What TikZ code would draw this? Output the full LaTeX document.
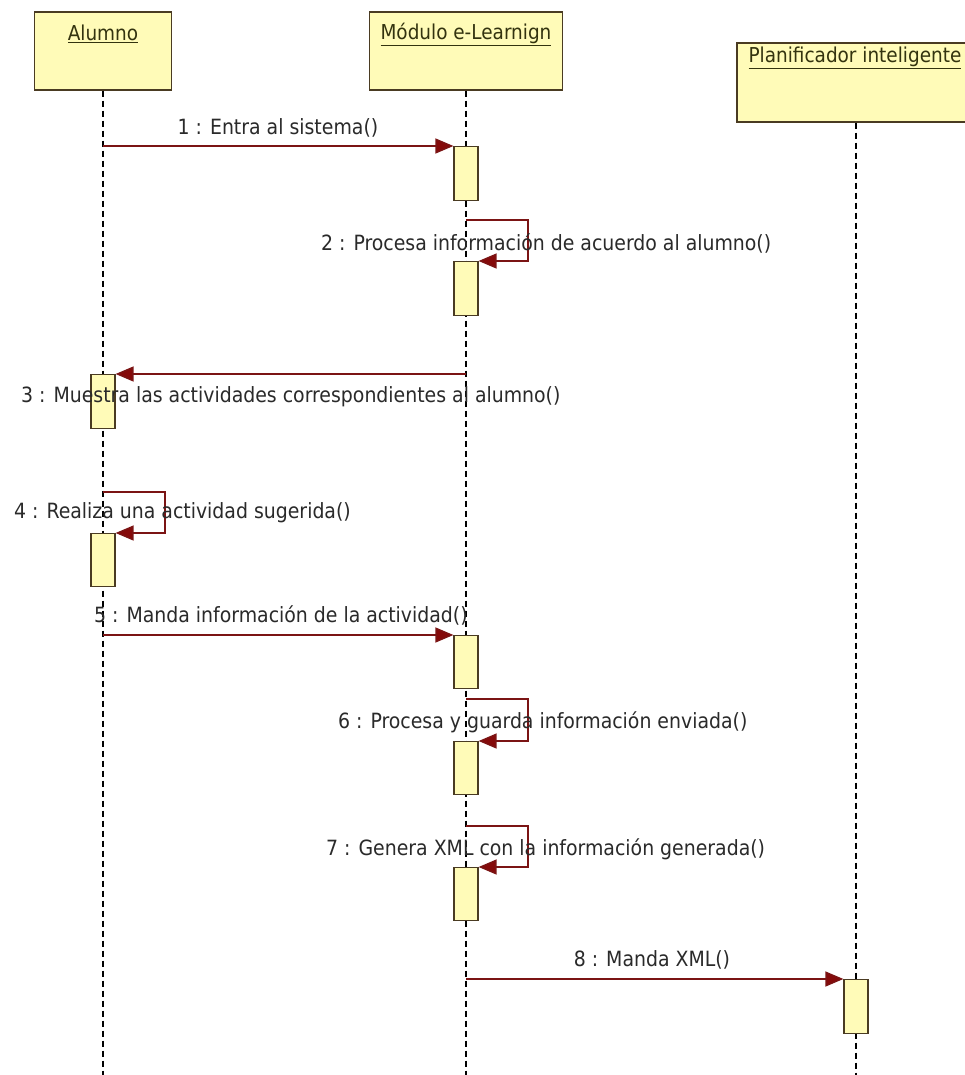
\documentclass[tikz,border=0pt]{standalone}
\usepackage{fontspec}
\setmainfont{DejaVu Sans Condensed}
\usetikzlibrary{arrows.meta}
\definecolor{boxfill}{HTML}{FFFBB8}
\definecolor{boxline}{HTML}{4A3B22}
\definecolor{msgline}{HTML}{7B1414}
\definecolor{arrowfill}{HTML}{850A0A}
\definecolor{txt}{HTML}{2A2A2A}
\definecolor{hdrtxt}{HTML}{33330F}
\begin{document}
\begin{tikzpicture}[x=1pt,y=-1pt,
  obj/.style={draw=boxline, fill=boxfill, line width=1.4pt, inner sep=0pt},
  hdr/.style={text=hdrtxt, inner sep=0pt, font=\fontsize{20.5}{24}\selectfont},
  act/.style={draw=boxline, fill=boxfill, line width=1.2pt, inner sep=0pt,
              minimum width=24pt, anchor=north},
  life/.style={draw=black, line width=1.3pt, dash pattern=on 6pt off 4pt},
  msg/.style={draw=msgline, line width=1.4pt,
              -{Triangle[length=18pt,width=15pt,fill=arrowfill]}},
  lbl/.style={text=txt, inner sep=0pt, font=\fontsize{21}{24}\selectfont}
]
\useasboundingbox[fill=white] (0,0) rectangle (965,1075);

% objects
\node[obj, minimum width=137pt, minimum height=78pt] (alumno) at (103,51) {};
\node[obj, minimum width=193pt, minimum height=78pt] (modulo) at (466,51) {};
\node[obj, minimum width=238pt, minimum height=79pt] (planif) at (856,82.5) {};
\node[hdr] (alumnoT) at (103,34) {\underline{Alumno}};
\node[hdr] (moduloT) at (466,34) {\underline{Módulo e-Learnign}};
\node[hdr] (planifT) at (855,58) {\underline{Planificador inteligente}};

% lifelines
\coordinate (alumnoEnd) at (103,1075);
\coordinate (moduloEnd) at (466,1075);
\coordinate (planifEnd) at (856,1075);
\draw[life] (alumno.south) -- (alumnoEnd);
\draw[life] (modulo.south) -- (moduloEnd);
\draw[life] (planif.south) -- (planifEnd);

% activations
\node[act, minimum height=54pt] (a1) at (466,146) {};
\node[act, minimum height=54pt] (a2) at (466,261) {};
\node[act, minimum height=54pt] (a3) at (103,374) {};
\node[act, minimum height=53pt] (a4) at (103,533) {};
\node[act, minimum height=53pt] (a5) at (466,635) {};
\node[act, minimum height=53pt] (a6) at (466,741) {};
\node[act, minimum height=53pt] (a7) at (466,867) {};
\node[act, minimum height=54pt] (a8) at (856,979) {};

% self-call starting points
\coordinate (s2) at (466,220);
\coordinate (s4) at (103,492);
\coordinate (s6) at (466,699);
\coordinate (s7) at (466,826);

% messages
\draw[msg] (a1.north west -| alumno.south) -- (a1.north west);
\draw[msg] (s2) -- ++(62,0) |- (a2.north east);
\draw[msg] (a3.north east -| modulo.south) -- (a3.north east);
\draw[msg] (s4) -- ++(62,0) |- (a4.north east);
\draw[msg] (a5.north west -| alumno.south) -- (a5.north west);
\draw[msg] (s6) -- ++(62,0) |- (a6.north east);
\draw[msg] (s7) -- ++(62,0) |- (a7.north east);
\draw[msg] (a8.north west -| modulo.south) -- (a8.north west);

% message labels
\node[lbl] (m1) at (278,128) {1 : Entra al sistema()};
\node[lbl, anchor=west] (m2) at (321,243) {2 : Procesa información de acuerdo al alumno()};
\node[lbl, anchor=west] (m3) at (21,397) {3 : Muestra las actividades correspondientes al alumno()};
\node[lbl, anchor=west] (m4) at (14,513) {4 : Realiza una actividad sugerida()};
\node[lbl, anchor=west] (m5) at (94,615) {5 : Manda información de la actividad()};
\node[lbl, anchor=west] (m6) at (338,722) {6 : Procesa y guarda información enviada()};
\node[lbl, anchor=west] (m7) at (326,849) {7 : Genera XML con la información generada()};
\node[lbl] (m8) at (652,960) {8 : Manda XML()};
\end{tikzpicture}
\end{document}
